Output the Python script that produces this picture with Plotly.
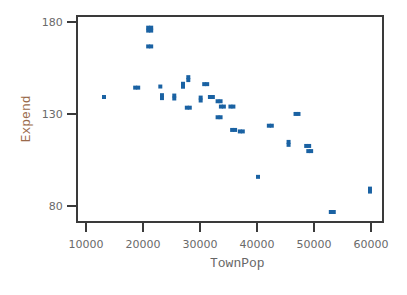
import plotly.graph_objects as go

town_pop = [13160,
            18630, 19160,
            20910, 21440, 20910, 21440,
            20910, 21440,
            23040,
            23330, 23330,
            25490, 25490,
            27020, 27020,
            27950, 27950,
            27690, 28210,
            30120, 30120,
            30740, 31260,
            31740, 32260,
            33090, 33610,
            33670, 34190,
            35340, 35860,
            33090, 33610,
            35640, 36160,
            36990, 37510,
            42080, 42600,
            46760, 47280,
            45540, 45540,
            48630, 49150,
            49000, 49500,
            40180,
            52950, 53470,
            59820, 59820]
expend = [139.2,
          144.3, 144.3,
          176.9, 176.9, 175.3, 175.3,
          166.7, 166.7,
          144.9,
          140.2, 138.6,
          140.0, 138.4,
          146.4, 144.8,
          150.0, 148.4,
          133.4, 133.4,
          138.9, 137.3,
          146.2, 146.2,
          139.2, 139.2,
          136.9, 136.9,
          134.0, 134.0,
          134.0, 134.0,
          128.2, 128.2,
          121.3, 121.3,
          120.5, 120.5,
          123.6, 123.6,
          130.0, 130.0,
          114.8, 113.2,
          112.6, 112.6,
          109.8, 109.8,
          95.8,
          76.7, 76.7,
          89.4, 87.8]

x_ticks = [10000, 20000, 30000, 40000, 50000, 60000]
y_ticks = [80, 130, 180]

fig = go.Figure(go.Scatter(
    x=town_pop, y=expend, mode="markers",
    marker=dict(symbol="square", size=4, color="#1a62a3", line=dict(width=0)),
    hoverinfo="skip"))

axis_common = dict(
    showgrid=False, zeroline=False, showline=True, linecolor="#3a3a3a",
    linewidth=2, mirror=True, ticks="outside", ticklen=9, tickwidth=1.5,
    tickcolor="#3a3a3a", tickfont=dict(family="DejaVu Sans", size=11, color="#6a6a6a"))

fig.update_xaxes(range=[8600, 61930], tickvals=x_ticks,
                 ticktext=[str(v) for v in x_ticks], ticklabelstandoff=3, **axis_common)
fig.update_yaxes(range=[71.8, 182.7], tickvals=y_ticks,
                 ticktext=[str(v) for v in y_ticks], ticklabelstandoff=2, **axis_common)

mono = "Liberation Mono"
fig.add_annotation(text="TownPop", xref="paper", yref="paper", x=0.525, y=-0.21, showarrow=False,
                   font=dict(family=mono, size=13, color="#666666"),
                   xanchor="center", yanchor="middle")
fig.add_annotation(text="Expend", xref="paper", yref="paper", x=-0.17, y=0.5, showarrow=False,
                   textangle=-90,
                   font=dict(family=mono, size=13, color="#9a6a4a"),
                   xanchor="center", yanchor="middle")

fig.update_layout(width=407, height=295, margin=dict(l=78, r=25, t=17, b=74),
                  plot_bgcolor="white", paper_bgcolor="white", showlegend=False)

fig.write_html("out.html")
